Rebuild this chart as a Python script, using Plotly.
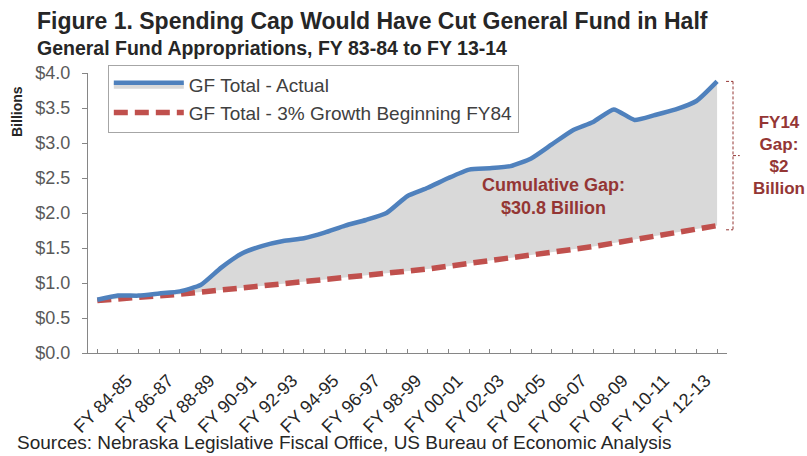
import plotly.graph_objects as go

categories = ["FY 83-84", "FY 84-85", "FY 85-86", "FY 86-87", "FY 87-88", "FY 88-89",
              "FY 89-90", "FY 90-91", "FY 91-92", "FY 92-93", "FY 93-94", "FY 94-95",
              "FY 95-96", "FY 96-97", "FY 97-98", "FY 98-99", "FY 99-00", "FY 00-01",
              "FY 01-02", "FY 02-03", "FY 03-04", "FY 04-05", "FY 05-06", "FY 06-07",
              "FY 07-08", "FY 08-09", "FY 09-10", "FY 10-11", "FY 11-12", "FY 12-13",
              "FY 13-14"]

gf_actual = [0.76, 0.82, 0.82, 0.85, 0.88, 0.97, 1.22, 1.42, 1.53, 1.60, 1.64,
             1.72, 1.82, 1.90, 2.00, 2.24, 2.36, 2.50, 2.62, 2.64, 2.67, 2.78,
             2.98, 3.18, 3.30, 3.48, 3.33, 3.40, 3.48, 3.60, 3.88]

gf_3pct = [0.75, 0.77, 0.80, 0.82, 0.84, 0.87, 0.90, 0.92, 0.95, 0.98, 1.01,
           1.04, 1.07, 1.10, 1.13, 1.17, 1.20, 1.24, 1.28, 1.31, 1.35, 1.39,
           1.44, 1.48, 1.52, 1.57, 1.62, 1.67, 1.72, 1.77, 1.82]

tick_text = ["FY 84-85", "FY 86-87", "FY 88-89", "FY 90-91", "FY 92-93", "FY 94-95",
             "FY 96-97", "FY 98-99", "FY 00-01", "FY 02-03", "FY 04-05", "FY 06-07",
             "FY 08-09", "FY 10-11", "FY 12-13"]

FONT = "Arial, Liberation Sans, sans-serif"
DARKRED = "#943634"

shown = [c if c in tick_text else "" for c in categories]

fig = go.Figure()
fig.add_trace(go.Scatter(
    x=categories, y=gf_3pct, mode="lines", name="GF Total - 3% Growth Beginning FY84",
    line=dict(color="#c0504d", width=5.5, dash="14px,7px"), legendrank=2,
))
fig.add_trace(go.Scatter(
    x=categories, y=gf_actual, mode="lines", name="GF Total - Actual",
    line=dict(color="#4f81bd", width=4.5, shape="spline", smoothing=0.5),
    fill="tonexty", fillcolor="#d9d9d9", legendrank=1,
))

annotations = [
    dict(text="<b>Figure 1. Spending Cap Would Have Cut General Fund in Half</b>",
         xref="paper", yref="paper", x=-0.083, y=1.186, xanchor="left", yanchor="middle",
         showarrow=False, font=dict(family=FONT, size=23, color="#262626")),
    dict(text="<b>General Fund Appropriations, FY 83-84 to FY 13-14</b>",
         xref="paper", yref="paper", x=-0.083, y=1.089, xanchor="left", yanchor="middle",
         showarrow=False, font=dict(family=FONT, size=19.5, color="#262626")),
    dict(text="Sources: Nebraska Legislative Fiscal Office, US Bureau of Economic Analysis",
         xref="paper", yref="paper", x=-0.114, y=-0.321, xanchor="left", yanchor="middle",
         showarrow=False, font=dict(family=FONT, size=19, color="#262626")),
    dict(text="<b>Billions</b>", xref="paper", yref="paper", x=-0.111, y=0.861,
         xanchor="center", yanchor="middle", textangle=-90, showarrow=False,
         font=dict(family=FONT, size=14, color="#262626")),
    dict(text="<b>Cumulative Gap:<br>$30.8 Billion</b>", xref="x", yref="y",
         x=22.06, y=2.23, xanchor="center", yanchor="middle", showarrow=False,
         font=dict(family=FONT, size=18, color=DARKRED)),
    dict(text="<b>FY14<br>Gap:<br>$2<br>Billion</b>", xref="paper", yref="paper",
         x=1.081, y=0.707, xanchor="center", yanchor="middle", showarrow=False,
         font=dict(family=FONT, size=17, color=DARKRED)),
]

br_x0, br_x1, br_x2 = 0.9985, 1.0094, 1.02
top, bot = gf_actual[-1], gf_3pct[-1] - 0.06
mid = (top + bot) / 2
bracket = dict(color=DARKRED, width=1, dash="3px,2px")
shapes = [
    dict(type="line", xref="paper", yref="y", x0=br_x0, x1=br_x1, y0=top, y1=top, line=bracket),
    dict(type="line", xref="paper", yref="y", x0=br_x1, x1=br_x1, y0=top, y1=bot, line=bracket),
    dict(type="line", xref="paper", yref="y", x0=br_x0, x1=br_x1, y0=bot, y1=bot, line=bracket),
    dict(type="line", xref="paper", yref="y", x0=br_x1, x1=br_x2, y0=mid, y1=mid, line=bracket),
]

fig.update_layout(
    width=807, height=456,
    margin=dict(l=88, r=80, t=73, b=103),
    paper_bgcolor="white", plot_bgcolor="white",
    font=dict(family=FONT, color="#404040"),
    showlegend=True,
    legend=dict(x=0.031, y=1.029, xanchor="left", yanchor="top",
                bgcolor="white", bordercolor="#a6a6a6", borderwidth=1,
                font=dict(family=FONT, size=19, color="#404040"),
                itemwidth=70, entrywidth=430, entrywidthmode="pixels",
                traceorder="normal", tracegroupgap=0),
    annotations=annotations,
    shapes=shapes,
    xaxis=dict(type="category", range=[-0.45, 30.48], tickmode="array",
               tickvals=categories, ticktext=shown, tickangle=-45,
               ticks="inside", ticklen=4, tickcolor="#868686",
               ticklabelshift=9, ticklabelstandoff=9,
               showline=True, linecolor="#868686", linewidth=1,
               showgrid=False, zeroline=False,
               tickfont=dict(family=FONT, size=18, color="#262626")),
    yaxis=dict(range=[0, 4.0], dtick=0.5, tickprefix="$", tickformat=".1f",
               ticks="outside", ticklen=5, tickcolor="#868686",
               ticklabelstandoff=8,
               showline=True, linecolor="#868686", linewidth=1,
               showgrid=False, zeroline=False,
               tickfont=dict(family=FONT, size=18, color="#595959")),
)

fig.write_html("out.html")
